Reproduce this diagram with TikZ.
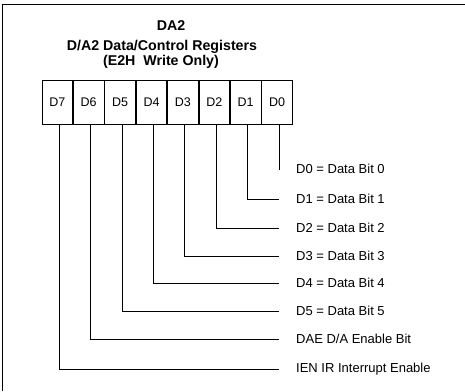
\documentclass[tikz,border=0pt]{standalone}
\usepackage{fontspec}
\setmainfont{Liberation Sans}
\usetikzlibrary{positioning}

\begin{document}
\begin{tikzpicture}[x=1pt,y=-1pt,
  bitbox/.style={draw,line width=0.8pt,minimum width=30.6pt,minimum height=44pt,inner sep=0pt,font=\fontsize{12.5}{14}\selectfont},
  bitlabel/.style={anchor=west,inner sep=0pt,font=\fontsize{13}{15}\selectfont},
  heading/.style={inner sep=0pt,font=\fontsize{14.2}{16}\selectfont\bfseries},
  lead/.style={line width=0.9pt}]
\useasboundingbox (0,0) rectangle (465,391);
% page frame, open to the right and bottom
\draw[line width=1pt] (2,391) -- (2,4) -- (465,4);
% title
\node[heading] (title) at (171,26) {DA2};
\node[heading] (sub) at (162,47) {D/A2 Data/Control Registers};
\node[heading] (sub2) at (161,62) {(E2H\ \ Write Only)};
% register
\node[bitbox] (b7) at (57.3,102) {D7};
\foreach \i/\j in {6/7,5/6,4/5,3/4,2/3,1/2,0/1}
  \node[bitbox,right=0pt of b\j] (b\i) {D\i};
% bit descriptions
\foreach \i/\y/\t in {0/169/{D0 = Data Bit 0},1/199/{D1 = Data Bit 1},2/228/{D2 = Data Bit 2},
    3/256/{D3 = Data Bit 3},4/283/{D4 = Data Bit 4},5/311/{D5 = Data Bit 5},
    6/339/{DAE D/A Enable Bit},7/369/{IEN IR Interrupt Enable}}
{
  \node[bitlabel] (l\i) at (296,\y) {\t};
  \coordinate (e\i) at (279,\y);
  \draw[lead] ([xshift=2pt]b\i.south) |- (e\i);
}
\end{tikzpicture}
\end{document}
